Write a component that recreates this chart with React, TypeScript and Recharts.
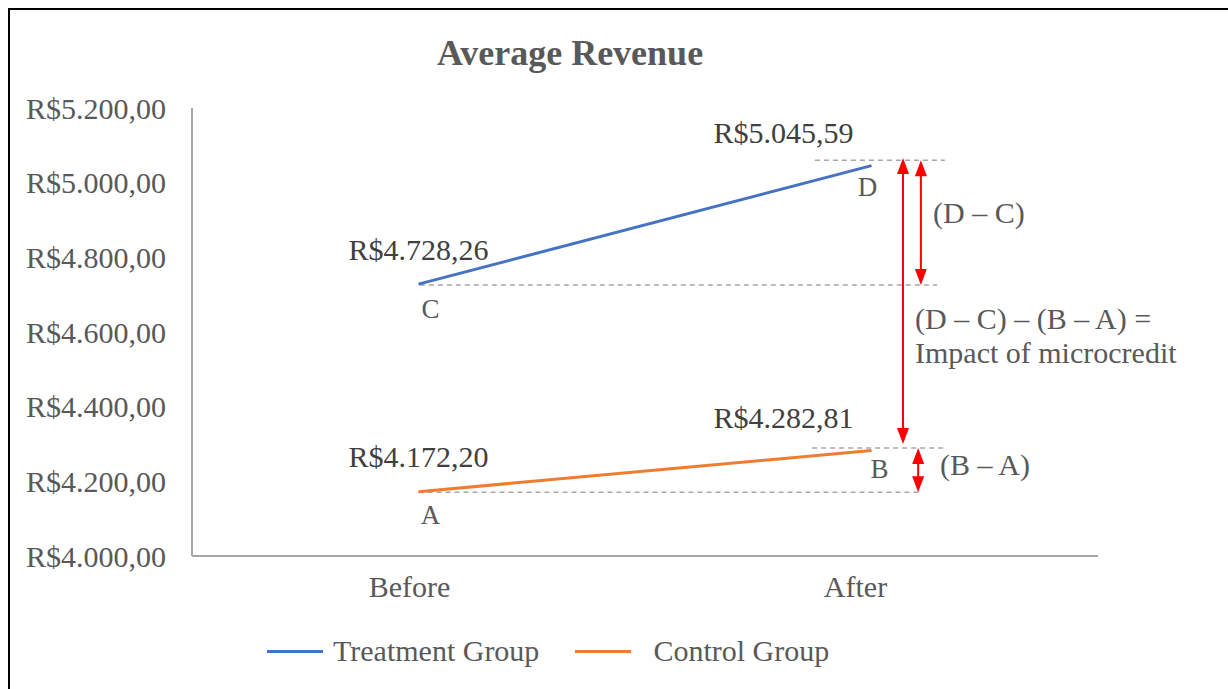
import React from "react";
import { LineChart, Line, XAxis, YAxis, ReferenceLine, LabelList } from "recharts";

const periods = ["Before", "After"];
const periodX = [0.5, 1.5];
const treatment = [4728.26, 5045.59];
const control = [4172.2, 4282.81];
const treatmentLetters = ["C", "D"];
const controlLetters = ["A", "B"];
const yTicks = [4000, 4200, 4400, 4600, 4800, 5000, 5200];

// annotation guides, in data units
const dashedGuides = [
  { y: 5060, from: 1.375, to: 1.662 },
  { y: 4726, from: 0.503, to: 1.645 },
  { y: 4289, from: 1.369, to: 1.662 },
  { y: 4171, from: 0.5, to: 1.603 },
];
const arrows = [
  { x: 1.5695, top: 5066, bottom: 4300 },
  { x: 1.609, top: 5060, bottom: 4726 },
  { x: 1.603, top: 4289, bottom: 4171 },
];

const rows = periods.map((p, i) => ({
  x: periodX[i],
  period: p,
  treatment: treatment[i],
  control: control[i],
}));

const FONT = "'Liberation Serif', 'Times New Roman', serif";
const GREY = "#595959";
const FS = 30;

const brl = (v: number) => {
  const [int, dec] = v.toFixed(2).split(".");
  return "R$" + int.replace(/\B(?=(\d{3})+(?!\d))/g, ".") + "," + dec;
};

const makeLabel = (letters: string[], letterOffsets: number[][]) => (props: any) => {
  const { x, y, value, index } = props;
  const dx = index === 0 ? 0 : -88;
  const dy = index === 0 ? -35 : -33;
  const [lx, ly] = letterOffsets[index];
  return (
    <g>
      <text x={x + dx} y={y + dy} textAnchor="middle" dominantBaseline="central" fill="#404040" fontSize={FS} fontFamily={FONT}>
        {brl(value)}
      </text>
      <text x={x + lx} y={y + ly} textAnchor="middle" dominantBaseline="central" fill={GREY} fontSize={27} fontFamily={FONT}>
        {letters[index]}
      </text>
    </g>
  );
};

const arrowShape = (props: any) => {
  const { x1, y1, x2, y2 } = props;
  const top = Math.min(y1, y2);
  const bot = Math.max(y1, y2);
  const h = 16;
  const w = 6;
  return (
    <g>
      <line x1={x1} x2={x2} y1={top + h - 2} y2={bot - h + 2} stroke="#ff0000" strokeWidth={2} />
      <polygon points={`${x1},${top} ${x1 - w},${top + h} ${x1 + w},${top + h}`} fill="#ff0000" />
      <polygon points={`${x1},${bot} ${x1 - w},${bot - h} ${x1 + w},${bot - h}`} fill="#ff0000" />
    </g>
  );
};

const XTick = (props: any) => {
  const { x, y, payload } = props;
  const i = periodX.indexOf(payload.value);
  return (
    <text x={x - (i === 0 ? 9 : 16)} y={y} dy={33} textAnchor="middle" fill={GREY} fontSize={FS} fontFamily={FONT}>
      {periods[i]}
    </text>
  );
};

export default function App() {
  const abs = { position: "absolute" as const };
  return (
    <div style={{ ...abs, left: 0, top: 0, width: 1228, height: 689, overflow: "hidden", background: "#fff" }}>
      <div style={{ ...abs, left: 8, top: 8, width: 1260, height: 720, border: "2px solid #000", boxSizing: "border-box" }} />
      <div style={{ ...abs, left: 0, top: 32, width: 1140, textAlign: "center", fontFamily: FONT, fontWeight: "bold", fontSize: 36, color: GREY }}>
        Average Revenue
      </div>
      <div style={{ ...abs, left: 0, top: 0 }}>
        <LineChart width={1228} height={689} data={rows} margin={{ top: 108, right: 130, bottom: 0, left: 0 }}>
          <XAxis
            type="number"
            dataKey="x"
            domain={[0, 2]}
            ticks={periodX}
            tick={<XTick />}
            tickLine={false}
            axisLine={{ stroke: "#a6a6a6", strokeWidth: 2 }}
            height={133}
          />
          <YAxis
            type="number"
            domain={[4000, 5200]}
            ticks={yTicks}
            tickFormatter={brl}
            tickLine={false}
            tickSize={0}
            tickMargin={26}
            width={192}
            axisLine={{ stroke: "#a6a6a6", strokeWidth: 2 }}
            tick={{ fill: GREY, fontSize: FS, fontFamily: FONT }}
          />
          {dashedGuides.map((g, i) => (
            <ReferenceLine
              key={"g" + i}
              segment={[{ x: g.from, y: g.y }, { x: g.to, y: g.y }]}
              stroke="#a6a6a6"
              strokeWidth={1.5}
              strokeDasharray="5 4"
            />
          ))}
          <Line type="linear" dataKey="treatment" name="Treatment Group" stroke="#4472C4" strokeWidth={3} dot={false} isAnimationActive={false}>
            <LabelList dataKey="treatment" content={makeLabel(treatmentLetters, [[12, 25], [-4, 21]])} />
          </Line>
          <Line type="linear" dataKey="control" name="Control Group" stroke="#ED7D31" strokeWidth={3} dot={false} isAnimationActive={false}>
            <LabelList dataKey="control" content={makeLabel(controlLetters, [[12, 23], [8, 19]])} />
          </Line>
          {arrows.map((a, i) => (
            <ReferenceLine
              key={"a" + i}
              segment={[{ x: a.x, y: a.top }, { x: a.x, y: a.bottom }]}
              stroke="#ff0000"
              shape={arrowShape}
            />
          ))}
        </LineChart>
      </div>
      <div style={{ ...abs, left: 933, top: 196, fontFamily: FONT, fontSize: FS, color: GREY, whiteSpace: "nowrap" }}>(D – C)</div>
      <div style={{ ...abs, left: 940, top: 448, fontFamily: FONT, fontSize: FS, color: GREY, whiteSpace: "nowrap" }}>(B – A)</div>
      <div style={{ ...abs, left: 915, top: 302, fontFamily: FONT, fontSize: FS, lineHeight: "34px", color: GREY, whiteSpace: "nowrap" }}>
        (D – C) – (B – A) =<br />Impact of microcredit
      </div>
      <div style={{ ...abs, left: 267, top: 634, display: "flex", alignItems: "center", fontFamily: FONT, fontSize: FS, color: GREY, whiteSpace: "nowrap" }}>
        <span style={{ display: "inline-block", width: 56, height: 3, background: "#4472C4", marginRight: 10 }} />
        <span>Treatment Group</span>
        <span style={{ display: "inline-block", width: 56, height: 3, background: "#ED7D31", marginLeft: 36, marginRight: 22 }} />
        <span>Control Group</span>
      </div>
    </div>
  );
}
